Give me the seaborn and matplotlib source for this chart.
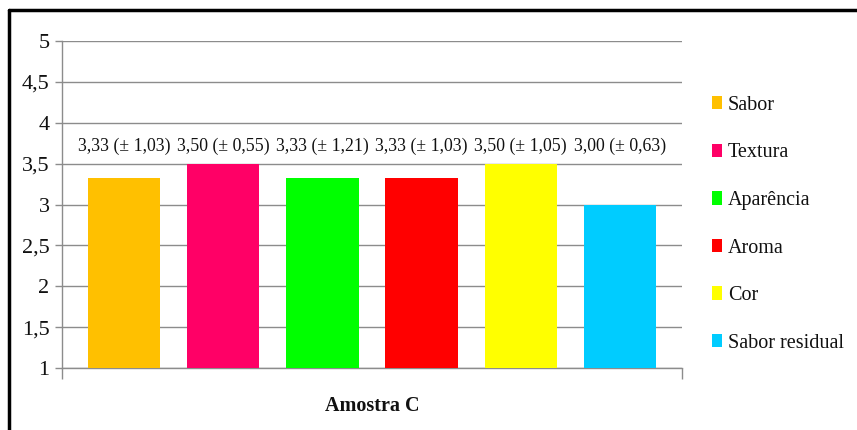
import matplotlib
matplotlib.use("Agg")
import matplotlib.pyplot as plt
from matplotlib.lines import Line2D
import seaborn as sns
import pandas as pd

# Sensory attribute scores for sample C (mean and standard deviation)
attributes = ["Sabor", "Textura", "Aparência", "Aroma", "Cor", "Sabor residual"]
means = [3.33, 3.50, 3.33, 3.33, 3.50, 3.00]
stdevs = [1.03, 0.55, 1.21, 1.03, 1.05, 0.63]
sample = "Amostra C"
palette = ["#FFC000", "#FF0066", "#00FF00", "#FF0000", "#FFFF00", "#00CCFF"]
y_ticks = [1, 1.5, 2, 2.5, 3, 3.5, 4, 4.5, 5]

sns.set_theme(style="white")
plt.rcParams["font.family"] = ["Liberation Serif", "DejaVu Serif"]
plt.rcParams["text.color"] = "#111111"
plt.rcParams["xtick.color"] = "#111111"
plt.rcParams["ytick.color"] = "#111111"

df = pd.DataFrame({"grupo": [sample] * len(attributes),
                   "atributo": attributes,
                   "media": means})

fig = plt.figure(figsize=(8.57, 4.30), dpi=100)
ax = fig.add_axes([62 / 857, 1 - 368 / 430, 620 / 857, 327 / 430])

sns.barplot(data=df, x="grupo", y="media", hue="atributo",
            hue_order=attributes, palette=palette, width=0.96, gap=0.27,
            saturation=1, errorbar=None, ax=ax, zorder=3, legend=True,
            linewidth=0)

ax.set_ylim(1, 5)
ax.set_xlim(-0.5, 0.5)
ax.set_yticks(y_ticks)
ax.set_yticklabels([f"{t:g}".replace(".", ",") for t in y_ticks], fontsize=16)
ax.yaxis.grid(True, color="#8c8c8c", linewidth=1.0, zorder=0)
ax.tick_params(axis="y", length=5, width=1, color="#8c8c8c", pad=4, left=True)
ax.tick_params(axis="x", length=0, pad=20)
ax.set_xticks([0])
ax.set_xticklabels([sample], fontsize=14.5, fontweight="bold")
ax.set_xticks([-0.5, 0.5], minor=True)
ax.tick_params(axis="x", which="minor", length=8, width=1, color="#8c8c8c", bottom=True)
ax.set_xlabel("")
ax.set_ylabel("")
for side in ["top", "right"]:
    ax.spines[side].set_visible(False)
for side in ["left", "bottom"]:
    ax.spines[side].set_color("#8c8c8c")
    ax.spines[side].set_linewidth(1.0)

# Value labels: mean (± standard deviation)
for container, m, s in zip(ax.containers, means, stdevs):
    for bar in container:
        cx = bar.get_x() + bar.get_width() / 2
        txt = f"{m:.2f} (± {s:.2f})".replace(".", ",")
        ax.text(cx, 3.71, txt, ha="center", va="center", fontsize=12.8,
                color="#111111", zorder=4)

handles, labels = ax.get_legend_handles_labels()
leg = ax.legend(handles, labels, loc="upper left", bbox_to_anchor=(1.035, 0.857),
                frameon=False, fontsize=14.5, handlelength=0.5, handleheight=0.65,
                handletextpad=0.3, labelspacing=1.42, borderaxespad=0)

# Outer frame lines along the top and left
fig.add_artist(Line2D([8.5 / 857, 8.5 / 857], [0, 1 - 9.5 / 430],
                      transform=fig.transFigure, color="black", linewidth=2.5))
fig.add_artist(Line2D([8.5 / 857, 1], [1 - 9.5 / 430, 1 - 9.5 / 430],
                      transform=fig.transFigure, color="black", linewidth=2.5))

fig.savefig("out.png", dpi=100, facecolor="white")
